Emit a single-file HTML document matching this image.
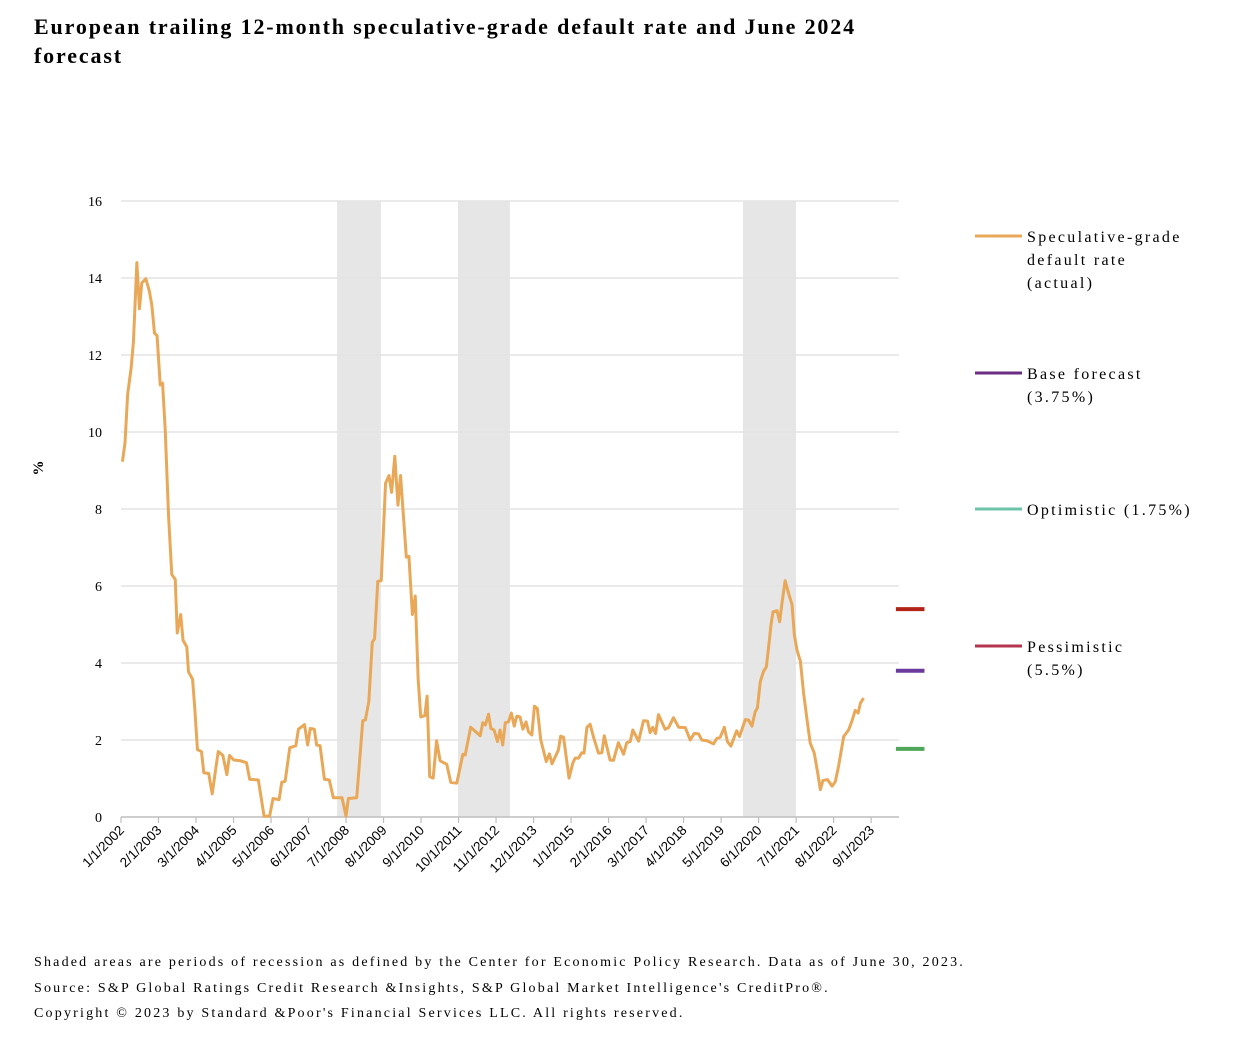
<!DOCTYPE html>
<html><head><meta charset="utf-8">
<style>
body{margin:0;background:#fff;width:1260px;height:1044px;overflow:hidden;font-family:"Liberation Serif",serif;}
</style></head>
<body>
<svg id="chart" width="1260" height="1044" viewBox="0 0 1260 1044" xmlns="http://www.w3.org/2000/svg">
<text x="34" y="34" font-family="Liberation Serif, serif" font-weight="bold" font-size="22" letter-spacing="1.85" textLength="822" lengthAdjust="spacing">European trailing 12-month speculative-grade default rate and June 2024</text>
<text x="34" y="63" font-family="Liberation Serif, serif" font-weight="bold" font-size="22" letter-spacing="1.85">forecast</text>
<g id="shade"></g><g id="grid"></g><g id="axes"></g><g id="series"></g><g id="fc"></g>
<text transform="translate(43,468) rotate(-90)" text-anchor="middle" font-size="15" font-weight="bold" font-family="Liberation Serif, serif">%</text>
<g font-family="Liberation Serif, serif" font-size="16" letter-spacing="2.3">
<line x1="975" y1="236" x2="1022" y2="236" stroke="#E8A858" stroke-width="3"/>
<text x="1027" y="242">Speculative-grade</text>
<text x="1027" y="265">default rate</text>
<text x="1027" y="288">(actual)</text>
<line x1="975" y1="373" x2="1022" y2="373" stroke="#6B2C83" stroke-width="3"/>
<text x="1027" y="379">Base forecast</text>
<text x="1027" y="402">(3.75%)</text>
<line x1="975" y1="509" x2="1022" y2="509" stroke="#6CC3A8" stroke-width="3"/>
<text x="1027" y="515">Optimistic (1.75%)</text>
<line x1="975" y1="646" x2="1022" y2="646" stroke="#B5344E" stroke-width="3"/>
<text x="1027" y="652">Pessimistic</text>
<text x="1027" y="675">(5.5%)</text>
</g>
<g font-family="Liberation Serif, serif" font-size="14" letter-spacing="2.2">
<text x="34" y="966" textLength="931" lengthAdjust="spacing">Shaded areas are periods of recession as defined by the Center for Economic Policy Research. Data as of June 30, 2023.</text>
<text x="34" y="992">Source: S&amp;P Global Ratings Credit Research &amp;Insights, S&amp;P Global Market Intelligence's CreditPro®.</text>
<text x="34" y="1017">Copyright © 2023 by Standard &amp;Poor's Financial Services LLC. All rights reserved.</text>
</g>
</svg>
<script>
const months=[0.5,1.4,2.3,3.5,4.3,5.5,6.4,7.2,8.6,9.8,10.7,11.6,12.5,13.6,14.4,15.3,16.5,17.6,18.8,19.5,20.7,21.5,22.8,23.4,24.8,25.5,26.5,27.9,28.7,30.4,31.6,33.7,35.3,36.7,37.6,39.1,41.4,43.5,44.6,47.6,49.6,51.5,52.7,54.8,55.7,56.9,58.5,60.6,61.5,63.6,64.7,65.6,67,67.8,69,70.5,72.2,73.6,76.6,78,78.8,81.7,83.8,84.7,85.9,87.1,87.9,89,90.2,91.7,92.9,93.8,94.9,96,96.9,98.9,99.8,101,102,103,103.9,105.3,106.1,107,108.2,109.4,110.6,112.9,114.3,116.4,118.5,119.3,121.2,124.5,125.4,126.3,127.4,128.2,129.3,130.5,131.4,132.3,133.2,134.3,135.3,136.3,137.2,138.3,139.3,140.4,141.2,142.4,143.3,144.3,145.5,147.4,148.5,149.4,151.6,152.4,153.4,155.3,156.6,157.4,158.6,159.7,160.5,161.5,162.6,163.8,165.5,166.7,167.5,169.5,170.7,172.4,174.2,175.3,176.5,177.4,179.4,181.1,182.5,183.4,184.3,185.3,186.3,188.6,189.8,191.5,193.3,195.6,197.3,198.7,200.2,201.3,203.1,205.4,206.5,207.7,209.1,210.2,211.4,213.4,214.4,216.4,217.5,218.7,219.8,220.6,221.6,222.7,223.7,224.5,225.3,226,227.4,228.3,229.1,230.2,231.4,232.6,233.4,234.3,235.5,236.6,237.8,238.9,240.3,241.5,242.4,243.3,244.9,246.5,247.6,248.7,250.5,252.2,253.3,254.5,255.5,256.3,257.4];
const rates=[9.23,9.73,10.98,11.65,12.33,14.4,13.2,13.87,13.98,13.67,13.29,12.57,12.5,11.22,11.27,10.1,7.8,6.3,6.17,4.78,5.26,4.59,4.42,3.77,3.58,2.9,1.75,1.7,1.15,1.13,0.6,1.7,1.6,1.1,1.6,1.48,1.46,1.41,0.98,0.96,0.02,0.02,0.48,0.45,0.9,0.93,1.8,1.85,2.28,2.4,1.87,2.3,2.28,1.87,1.85,0.98,0.96,0.5,0.5,0.02,0.48,0.5,2.5,2.52,3,4.54,4.63,6.12,6.14,8.67,8.87,8.43,9.37,8.1,8.87,6.75,6.77,5.26,5.74,3.58,2.6,2.63,3.14,1.05,1.01,1.98,1.46,1.37,0.9,0.88,1.63,1.61,2.33,2.11,2.45,2.39,2.67,2.3,2.26,1.96,2.26,1.87,2.45,2.47,2.7,2.36,2.62,2.6,2.28,2.47,2.22,2.13,2.88,2.82,2,1.44,1.64,1.38,1.74,2.1,2.07,1.01,1.4,1.53,1.53,1.67,1.66,2.33,2.41,2.07,1.66,1.67,2.11,1.48,1.47,1.93,1.63,1.93,1.96,2.26,1.97,2.5,2.49,2.19,2.33,2.17,2.66,2.28,2.32,2.58,2.33,2.32,2,2.17,2.16,2,1.98,1.9,2.04,2.07,2.33,1.96,1.84,2.24,2.09,2.53,2.52,2.36,2.73,2.84,3.52,3.78,3.9,4.43,4.99,5.33,5.36,5.07,5.55,6.14,5.81,5.51,4.73,4.34,4.04,3.22,2.52,1.92,1.66,1.14,0.71,0.95,0.97,0.8,0.92,1.31,2.09,2.26,2.48,2.77,2.7,2.96,3.09];
const recessionStarts=[74.9,116.8,215.6];
const recessionEnds=[90.1,134.8,234];
const tickLabels=["1/1/2002","2/1/2003","3/1/2004","4/1/2005","5/1/2006","6/1/2007","7/1/2008","8/1/2009","9/1/2010","10/1/2011","11/1/2012","12/1/2013","1/1/2015","2/1/2016","3/1/2017","4/1/2018","5/1/2019","6/1/2020","7/1/2021","8/1/2022","9/1/2023"];
const tickMonths=[0,13,26,39,52,65,78,91,104,117,130,143,156,169,182,195,208,221,234,247,260];
const yTicks=[0,2,4,6,8,10,12,14,16];
const forecastNames=["pessimistic","base","optimistic"];
const forecastValues=[5.4,3.8,1.77];
const forecastColors=["#B22418","#6B3A9E","#4FA85A"];

const NS="http://www.w3.org/2000/svg";
const X0=121,Y0=817,PX=2.885,PY=38.5,XR=899;
const xs=m=>X0+m*PX, ys=v=>Y0-v*PY;
function mk(tag,parent,attrs){const e=document.createElementNS(NS,tag);for(const k in attrs)e.setAttribute(k,attrs[k]);document.getElementById(parent).appendChild(e);return e;}

recessionStarts.forEach((s,i)=>{
 const r=mk('rect','shade',{x:xs(s),y:ys(16),width:xs(recessionEnds[i])-xs(s),height:ys(0)-ys(16),fill:'#E6E6E6'});
 
 
});
yTicks.forEach(v=>{
 if(v>0){const l=mk('line','grid',{x1:X0,x2:XR,y1:ys(v),y2:ys(v),stroke:'#E3E3E3','stroke-width':1.5});
 
 }
 const t=mk('text','axes',{x:102,y:ys(v)+5,'text-anchor':'end','font-size':14,'font-family':'Liberation Serif, serif'});
 t.textContent=v;
 
 
});
const ax=mk('line','axes',{x1:X0,x2:XR,y1:Y0,y2:Y0,stroke:'#BDBDBD','stroke-width':1.5});


tickMonths.forEach((m,i)=>{
 const x=xs(m);
 const tk=mk('line','axes',{x1:x,x2:x,y1:Y0,y2:Y0+6,stroke:'#BDBDBD','stroke-width':1.2});
 
 
 const t=mk('text','axes',{transform:`translate(${x+4},${Y0+14}) rotate(-45)`,'text-anchor':'end','font-size':13.5,'font-family':'Liberation Sans, sans-serif'});
 t.textContent=tickLabels[i];
 
 
});
const p=mk('polyline','series',{points:months.map((m,i)=>xs(m)+','+ys(rates[i])).join(' '),fill:'none',stroke:'#E8A858','stroke-width':3,'stroke-linejoin':'round'});


forecastValues.forEach((v,i)=>{
 const l=mk('line','fc',{x1:xs(268.6),x2:xs(278.5),y1:ys(v),y2:ys(v),stroke:forecastColors[i],'stroke-width':4});
 
 
});
</script>
</body></html>
